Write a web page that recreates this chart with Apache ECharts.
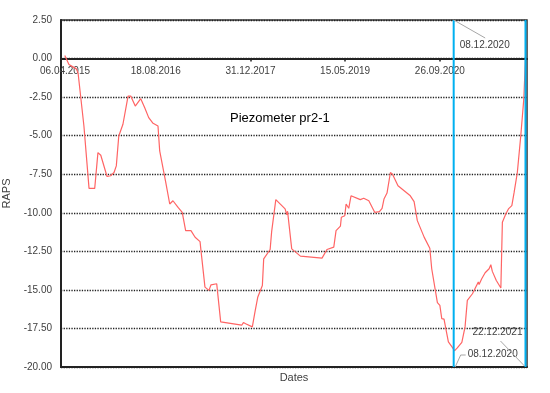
<!DOCTYPE html>
<html><head><meta charset="utf-8">
<script src="https://cdn.jsdelivr.net/npm/echarts@6/dist/echarts.min.js"></script>
<style>html,body{margin:0;padding:0;background:#fff}#c{width:550px;height:393px}</style>
</head><body><div id="c"></div>
<script>
// ---- data ----
const startDate = '2015-04-06';           // axis origin (06.04.2015)
const dayOffsets = [20, 28, 42, 63, 81, 90, 121, 148, 178, 195, 210, 243, 262, 280, 292, 305, 327, 354, 368, 392,
  421, 442, 463, 486, 512, 521, 553, 574, 591, 618, 640, 658, 686, 708, 734, 739, 760, 781, 792, 822,
  843, 954, 963, 975, 1010, 1024, 1039, 1063, 1070, 1104, 1112, 1134, 1183, 1192, 1196, 1218, 1264, 1378, 1404, 1410,
  1440, 1452, 1475, 1480, 1498, 1505, 1519, 1531, 1580, 1598, 1625, 1656, 1681, 1695, 1705, 1721, 1739, 1750, 1779, 1818,
  1844, 1864, 1881, 1917, 1947, 1957, 1987, 2000, 2010, 2022, 2034, 2045, 2066, 2077, 2092, 2116, 2133, 2145, 2172, 2203,
  2207, 2221, 2239, 2260, 2269, 2277, 2298, 2322, 2330, 2348, 2362, 2380, 2392, 2409, 2427, 2443, 2452];
const rapsValues = [0.2, 0.15, -0.39, -0.54, -0.67, -0.92, -4.37, -8.42, -8.42, -6.1, -6.27, -7.65, -7.6, -7.39, -6.96, -5.02, -4.26, -2.43, -2.43, -3.08,
  -2.6, -3.19, -3.83, -4.2, -4.37, -5.99, -8.03, -9.43, -9.22, -9.65, -9.97, -11.16, -11.16, -11.59, -11.87, -12.45, -14.82, -15.03, -14.67, -14.6,
  -17.07, -17.29, -17.12, -17.2, -17.4, -16.43, -15.46, -14.71, -12.99, -12.38, -11.22, -9.15, -9.75, -10.14, -9.9, -12.34, -12.81, -12.94, -12.38, -12.45,
  -12.23, -11.16, -10.87, -10.29, -10.19, -9.43, -9.71, -8.9, -9.15, -9.06, -9.22, -9.97, -9.93, -9.71, -9.11, -8.72, -7.39, -7.5, -8.25, -8.64,
  -8.9, -9.28, -10.51, -11.58, -12.3, -13.63, -15.83, -16.0, -16.86, -16.9, -17.68, -18.37, -18.73, -18.95, -18.76, -18.41, -17.4, -15.68, -15.25, -14.49,
  -14.65, -14.28, -13.89, -13.63, -13.37, -13.8, -14.39, -14.88, -10.62, -10.08, -9.75, -9.54, -8.68, -7.39, -5.02, -2.65, 0.0];
const markerDates = ['2020-12-08', '2021-12-22'];
const yMin = -20, yMax = 2.5, yStep = 2.5;
const xMax = 2460, xStep = 500;
const titleText = 'Piezometer pr2-1';
const yName = 'RAPS', xName = 'Dates';

// ---- helpers ----
const DAY = 86400000;
const t0 = Date.parse(startDate + 'T00:00:00Z');
function dayOf(s) { return Math.round((Date.parse(s + 'T00:00:00Z') - t0) / DAY); }
function fmt(d) {
  const dt = new Date(t0 + d * DAY);
  const p = n => String(n).padStart(2, '0');
  return p(dt.getUTCDate()) + '.' + p(dt.getUTCMonth() + 1) + '.' + dt.getUTCFullYear();
}
const FONT = "'Liberation Sans', Arial, sans-serif";
const markerDays = markerDates.map(dayOf);

const W = 550, H = 393;
const G = { left: 61, right: 23, top: 20, bottom: 26 };
const plotH = H - G.top - G.bottom;
// pixel distance from top of plot to the value-0 line (where the date labels sit)
const zeroOffset = (yMax - 0) / (yMax - yMin) * plotH;

const labelText = { color: '#404040', fontSize: 10, fontFamily: FONT };
function markerSeries(d, labelTop, labelBottom, layoutFn) {
  return {
    type: 'line', xAxisIndex: 0, yAxisIndex: 0,
    data: [
      { value: [d, yMax], label: { show: labelTop } },
      { value: [d, yMin], label: { show: labelBottom } }
    ],
    symbol: 'circle', symbolSize: 0.1, showSymbol: true,
    lineStyle: { color: '#00B0F0', width: 2 },
    itemStyle: { color: '#00B0F0' },
    label: Object.assign({ formatter: () => fmt(d) }, labelText),
    labelLayout: layoutFn,
    emphasis: { disabled: true }, silent: true, z: 3
  };
}

const chart = echarts.init(document.getElementById('c'), null, { renderer: 'canvas' });
chart.setOption({
  animation: false,
  title: {
    text: titleText, left: 225, top: 107,
    textStyle: { fontSize: 13, fontWeight: 'normal', color: '#000', fontFamily: FONT }
  },
  grid: Object.assign({ outerBoundsMode: 'none', containLabel: false, show: true, borderColor: '#333', borderWidth: 1.5, backgroundColor: 'transparent' }, G),
  xAxis: [{
    type: 'value', min: 0, max: xMax, interval: xStep,
    position: 'top', offset: -zeroOffset,
    axisLine: { onZero: false, lineStyle: { color: '#222', width: 2 } },
    axisTick: { show: true, inside: true, length: 3, lineStyle: { color: '#222', width: 1.5 } },
    axisLabel: Object.assign({
      inside: true, margin: 8, showMaxLabel: false,
      formatter: v => (v % xStep !== 0 ? '' : (v === 0 ? '{first|' + fmt(v) + '}' : fmt(v))),
      rich: { first: { padding: [0, 0, 0, 8], color: '#404040', fontSize: 10, fontFamily: FONT } }
    }, labelText),
    splitLine: { show: false }
  }, {
    type: 'value', min: 0, max: xMax, position: 'bottom',
    axisLine: { onZero: false, lineStyle: { color: '#222', width: 2 } },
    axisTick: { show: false }, axisLabel: { show: false }, splitLine: { show: false },
    name: xName, nameLocation: 'middle', nameGap: 5,
    nameTextStyle: { color: '#404040', fontSize: 11, fontFamily: FONT }
  }],
  yAxis: {
    type: 'value', min: yMin, max: yMax, interval: yStep,
    axisLine: { show: true, onZero: false, lineStyle: { color: '#222', width: 2 } },
    axisTick: { show: false },
    axisLabel: Object.assign({ margin: 9, formatter: v => v.toFixed(2) }, labelText),
    splitLine: { show: true, lineStyle: { color: '#222', type: 'dotted', width: 1.3 } },
    name: yName, nameLocation: 'middle', nameGap: 43,
    nameTextStyle: { color: '#404040', fontSize: 11, fontFamily: FONT }
  },
  series: [
    {
      type: 'line', xAxisIndex: 0, yAxisIndex: 0,
      data: dayOffsets.map((d, i) => [d, rapsValues[i]]),
      showSymbol: false, symbol: 'none',
      lineStyle: { color: '#FF6464', width: 1.2 },
      emphasis: { disabled: true }, silent: true, z: 2
    },
    markerSeries(markerDays[0], true, true, function (p) {
      const cx = p.rect.x + p.rect.width / 2, cy = p.rect.y + p.rect.height / 2;
      if (p.dataIndex === 0) return { x: cx + 6, y: cy + 25.5, align: 'left', verticalAlign: 'middle' };
      return { x: cx + 14, y: cy - 12.5, align: 'left', verticalAlign: 'middle' };
    }),
    markerSeries(markerDays[1], false, true, function (p) {
      const cx = p.rect.x + p.rect.width / 2, cy = p.rect.y + p.rect.height / 2;
      return { x: cx - 3, y: cy - 35, align: 'right', verticalAlign: 'middle' };
    })
  ]
});

// leader lines from the marker ends to their date labels
const px = v => chart.convertToPixel({ xAxisIndex: 0, yAxisIndex: 0 }, v);
const aTop = px([markerDays[0], yMax]);
const aBot = px([markerDays[0], yMin]);
const bBot = px([markerDays[1], yMin]);
const leaderStyle = { stroke: '#a6a6a6', lineWidth: 1, fill: null };
chart.setOption({
  graphic: [
    { type: 'polyline', silent: true, z: 10, shape: { points: [[aTop[0], aTop[1]], [aTop[0] + 31.5, aTop[1] + 18]] }, style: leaderStyle },
    { type: 'polyline', silent: true, z: 10, shape: { points: [[aBot[0] + 1.5, aBot[1]], [aBot[0] + 7, aBot[1] - 12], [aBot[0] + 12, aBot[1] - 12]] }, style: leaderStyle },
    { type: 'polyline', silent: true, z: 10, shape: { points: [[bBot[0] - 1, bBot[1] - 1], [bBot[0] - 25, bBot[1] - 26]] }, style: leaderStyle }
  ]
});
</script></body></html>
